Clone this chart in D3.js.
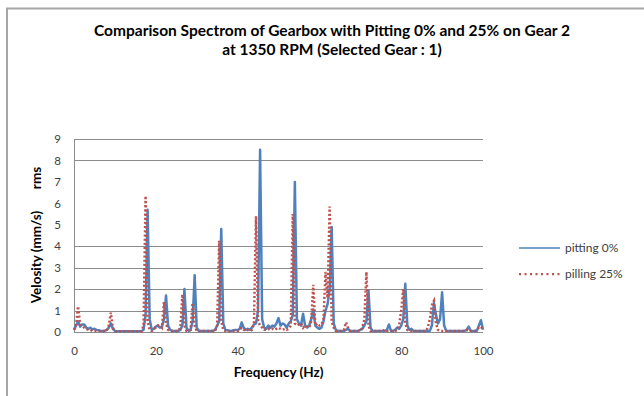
<!DOCTYPE html>
<html>
<head>
<meta charset="utf-8">
<script src="https://cdn.jsdelivr.net/npm/d3@7"></script>
<style>
  html, body { margin: 0; padding: 0; background: #fff; }
  svg { display: block; }
  text { font-family: Lato, "Open Sans", sans-serif; }
</style>
</head>
<body>
<svg id="chart" width="644" height="396"></svg>
<script>
// Spectrum sampled every 0.5 Hz from 0 to 100 Hz
const freqStep = 0.5;

// pitting 0%  (velocity rms, mm/s)
const pitting0 = [
  0.10, 0.30, 0.50, 0.25, 0.35, 0.35, 0.20, 0.15, 0.20, 0.12, // 0 - 4.5
  0.15, 0.10, 0.08, 0.05, 0.05, 0.05, 0.10, 0.20, 0.40, 0.15, // 5 - 9.5
  0.05, 0.03, 0.03, 0.03, 0.03, 0.03, 0.03, 0.03, 0.03, 0.03, // 10 - 14.5
  0.03, 0.03, 0.03, 0.03, 0.10, 0.80, 5.70, 0.60, 0.10, 0.15, // 15 - 19.5
  0.25, 0.30, 0.20, 0.25, 0.60, 1.70, 0.30, 0.10, 0.05, 0.05, // 20 - 24.5
  0.05, 0.05, 0.10, 0.30, 2.00, 0.20, 0.05, 0.10, 0.50, 2.65, // 25 - 29.5
  0.20, 0.05, 0.05, 0.05, 0.05, 0.05, 0.05, 0.05, 0.05, 0.10, // 30 - 34.5
  0.30, 0.50, 4.80, 0.40, 0.10, 0.08, 0.05, 0.05, 0.08, 0.10, // 35 - 39.5
  0.08, 0.15, 0.45, 0.20, 0.10, 0.15, 0.10, 0.20, 0.35, 0.40, // 40 - 44.5
  1.00, 8.50, 0.60, 0.20, 0.15, 0.30, 0.20, 0.30, 0.25, 0.40, // 45 - 49.5
  0.65, 0.30, 0.40, 0.35, 0.20, 0.40, 0.50, 0.80, 7.00, 0.60, // 50 - 54.5
  0.40, 0.30, 0.85, 0.30, 0.20, 0.30, 0.60, 1.05, 0.30, 0.20, // 55 - 59.5
  0.15, 0.20, 0.50, 1.00, 1.30, 2.00, 4.90, 0.40, 0.10, 0.05, // 60 - 64.5
  0.05, 0.05, 0.05, 0.10, 0.15, 0.05, 0.05, 0.05, 0.05, 0.05, // 65 - 69.5
  0.10, 0.15, 0.30, 0.50, 1.95, 0.20, 0.05, 0.05, 0.05, 0.05, // 70 - 74.5
  0.05, 0.05, 0.05, 0.10, 0.35, 0.05, 0.05, 0.10, 0.20, 0.15, // 75 - 79.5
  0.30, 0.60, 2.25, 0.30, 0.10, 0.15, 0.05, 0.05, 0.05, 0.05, // 80 - 84.5
  0.05, 0.05, 0.05, 0.05, 0.05, 0.30, 1.35, 0.80, 0.40, 0.60, // 85 - 89.5
  1.85, 0.30, 0.05, 0.05, 0.05, 0.05, 0.05, 0.05, 0.05, 0.05, // 90 - 94.5
  0.05, 0.05, 0.10, 0.25, 0.05, 0.05, 0.05, 0.05, 0.30, 0.55, // 95 - 99.5
  0.10                                                        // 100
];

// pitting 25%  (velocity rms, mm/s)
const pitting25 = [
  0.10, 0.30, 1.20, 0.35, 0.30, 0.20, 0.15, 0.10, 0.10, 0.05, // 0 - 4.5
  0.05, 0.05, 0.05, 0.05, 0.05, 0.05, 0.05, 0.30, 0.90, 0.20, // 5 - 9.5
  0.03, 0.03, 0.03, 0.03, 0.03, 0.03, 0.03, 0.03, 0.03, 0.03, // 10 - 14.5
  0.03, 0.03, 0.03, 0.03, 0.30, 6.35, 0.50, 0.10, 0.05, 0.15, // 15 - 19.5
  0.20, 0.30, 0.30, 0.20, 1.40, 0.40, 0.10, 0.05, 0.05, 0.05, // 20 - 24.5
  0.05, 0.05, 0.20, 1.75, 0.30, 0.05, 0.05, 0.10, 1.35, 0.30, // 25 - 29.5
  0.05, 0.05, 0.05, 0.05, 0.05, 0.05, 0.05, 0.05, 0.05, 0.05, // 30 - 34.5
  0.30, 4.25, 0.50, 0.10, 0.05, 0.05, 0.05, 0.05, 0.05, 0.05, // 35 - 39.5
  0.05, 0.10, 0.20, 0.10, 0.05, 0.10, 0.05, 0.10, 0.40, 5.40, // 40 - 44.5
  0.50, 0.30, 0.20, 0.10, 0.10, 0.15, 0.10, 0.15, 0.10, 0.15, // 45 - 49.5
  0.20, 0.15, 0.10, 0.15, 0.10, 0.15, 0.30, 5.50, 0.40, 0.30, // 50 - 54.5
  0.35, 0.40, 0.20, 0.30, 0.25, 0.20, 0.50, 2.20, 0.30, 0.40, // 55 - 59.5
  0.30, 0.35, 0.60, 2.80, 1.60, 5.85, 0.50, 0.20, 0.05, 0.05, // 60 - 64.5
  0.05, 0.05, 0.10, 0.45, 0.20, 0.05, 0.05, 0.05, 0.05, 0.05, // 65 - 69.5
  0.05, 0.20, 0.60, 2.80, 0.30, 0.05, 0.05, 0.05, 0.05, 0.05, // 70 - 74.5
  0.05, 0.05, 0.10, 0.05, 0.05, 0.05, 0.05, 0.05, 0.10, 0.30, // 75 - 79.5
  1.00, 2.00, 0.40, 0.10, 0.05, 0.05, 0.05, 0.05, 0.05, 0.05, // 80 - 84.5
  0.05, 0.05, 0.05, 0.20, 0.60, 1.25, 1.45, 0.40, 0.10, 0.05, // 85 - 89.5
  0.05, 0.05, 0.05, 0.05, 0.05, 0.05, 0.05, 0.05, 0.05, 0.05, // 90 - 94.5
  0.05, 0.05, 0.10, 0.05, 0.05, 0.05, 0.05, 0.10, 0.20, 0.25, // 95 - 99.5
  0.10                                                        // 100
];

const xTicks = [0, 20, 40, 60, 80, 100];
const yTicks = [0, 1, 2, 3, 4, 5, 6, 7, 8, 9];
const gridValues = [1, 2, 3, 4, 8, 9];
const seriesNames = ["pitting 0%", "pilling 25%"];
const titleLines = [
  "Comparison Spectrom of Gearbox with Pitting 0% and 25% on Gear 2",
  "at 1350 RPM (Selected Gear : 1)"
];

const svg = d3.select("#chart");

// chart frame
svg.append("path")
  .attr("d", "M7,400 V8.5 H650")
  .attr("fill", "none")
  .attr("stroke", "#a6a6a6")
  .attr("stroke-width", 2);

const x = d3.scaleLinear().domain([0, 100]).range([74, 483]);
const y = d3.scaleLinear().domain([0, 9]).range([332, 139]);

// horizontal gridlines
svg.append("g")
  .selectAll("line")
  .data(gridValues)
  .join("line")
  .attr("x1", x(0)).attr("x2", x(100))
  .attr("y1", d => Math.round(y(d)) + 0.5)
  .attr("y2", d => Math.round(y(d)) + 0.5)
  .attr("stroke", "#8c8c8c")
  .attr("stroke-width", 1);

// vertical axis line and baseline
svg.append("line")
  .attr("x1", x(0) + 0.5).attr("x2", x(0) + 0.5)
  .attr("y1", y(9)).attr("y2", y(0))
  .attr("stroke", "#8c8c8c");
svg.append("line")
  .attr("x1", x(0)).attr("x2", x(100))
  .attr("y1", y(0) + 0.5).attr("y2", y(0) + 0.5)
  .attr("stroke", "#8c8c8c");

// axes tick labels
const xAxis = d3.axisBottom(x).tickValues(xTicks).tickSize(0).tickPadding(15);
svg.append("g")
  .attr("transform", `translate(0,${y(0)})`)
  .call(xAxis)
  .call(g => g.select(".domain").remove())
  .call(g => g.selectAll("text")
    .attr("font-family", "Lato, sans-serif")
    .attr("font-size", 11.5)
    .attr("fill", "#404040"));

const yAxis = d3.axisLeft(y).tickValues(yTicks).tickSize(0).tickPadding(13);
svg.append("g")
  .attr("transform", `translate(${x(0)},0)`)
  .call(yAxis)
  .call(g => g.select(".domain").remove())
  .call(g => g.selectAll("text")
    .attr("font-family", "Lato, sans-serif")
    .attr("font-size", 11.5)
    .attr("fill", "#404040"));

// spectrum lines
const line = d3.line()
  .x((d, i) => x(i * freqStep))
  .y(d => y(d));

svg.append("path")
  .datum(pitting0)
  .attr("d", line)
  .attr("fill", "none")
  .attr("stroke", "#4f81bd")
  .attr("stroke-width", 2.5)
  .attr("stroke-linejoin", "round");

svg.append("path")
  .datum(pitting25)
  .attr("d", line)
  .attr("fill", "none")
  .attr("stroke", "#c0504d")
  .attr("stroke-width", 2.5)
  .attr("stroke-dasharray", "2,2.2");

// title
svg.append("g")
  .selectAll("text")
  .data(titleLines)
  .join("text")
  .attr("x", 332)
  .attr("y", (d, i) => 36 + i * 19)
  .attr("text-anchor", "middle")
  .attr("font-size", 15.5)
  .attr("font-weight", "bold")
  .attr("fill", "#000")
  .text(d => d);

// axis titles
svg.append("text")
  .attr("x", x(50))
  .attr("y", 377)
  .attr("text-anchor", "middle")
  .attr("font-size", 13.5)
  .attr("font-weight", "bold")
  .attr("fill", "#000")
  .text("Frequency (Hz)");

svg.append("text")
  .attr("transform", "translate(41,257) rotate(-90)")
  .attr("text-anchor", "middle")
  .attr("font-size", 13.5)
  .attr("font-weight", "bold")
  .attr("fill", "#000")
  .text("Velosity (mm/s)");

svg.append("text")
  .attr("transform", "translate(41,178) rotate(-90)")
  .attr("text-anchor", "middle")
  .attr("font-size", 13.5)
  .attr("font-weight", "bold")
  .attr("fill", "#000")
  .text("rms");

// legend
const legend = svg.append("g");
const legendRows = legend.selectAll("g")
  .data(seriesNames)
  .join("g")
  .attr("transform", (d, i) => `translate(519,${248 + i * 26})`);

legendRows.append("line")
  .attr("x1", 0).attr("x2", 41)
  .attr("stroke", (d, i) => i === 0 ? "#4f81bd" : "#c0504d")
  .attr("stroke-width", (d, i) => i === 0 ? 1.5 : 2.25)
  .attr("stroke-dasharray", (d, i) => i === 0 ? null : "2,3.5");

legendRows.append("text")
  .attr("x", 46)
  .attr("y", 4)
  .attr("font-size", 12)
  .attr("fill", "#404040")
  .text(d => d);
</script>
</body>
</html>
